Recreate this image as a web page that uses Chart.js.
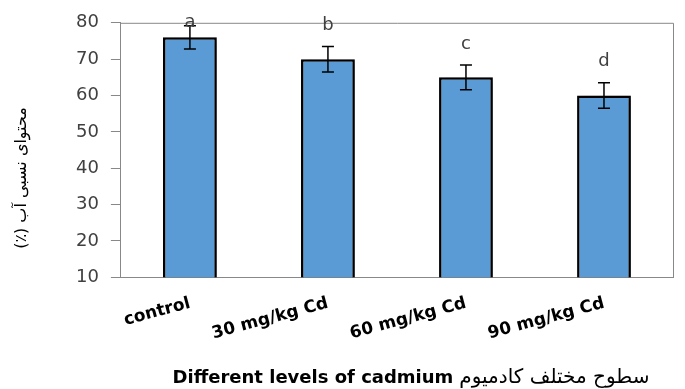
<!DOCTYPE html>
<html>
<head>
<meta charset="utf-8">
<script src="https://cdn.jsdelivr.net/npm/chart.js@4.4.0/dist/chart.umd.min.js"></script>
<style>
  html, body { margin: 0; padding: 0; background: #fff; }
  #wrap { width: 685px; height: 389px; position: relative; }
</style>
</head>
<body>
<div id="wrap"><canvas id="c" width="685" height="389"></canvas></div>
<script>
const categories = ['control', '30 mg/kg Cd', '60 mg/kg Cd', '90 mg/kg Cd'];
const values = [76, 70, 65, 60];
const errors = [3.2, 3.5, 3.4, 3.5];
const letters = ['a', 'b', 'c', 'd'];
const yTicks = [10, 20, 30, 40, 50, 60, 70, 80];
const yTitle = 'محتوای نسبی آب (٪)';
const xTitleEn = 'Different levels of cadmium';
const xTitleFa = 'سطوح مختلف کادمیوم';

const shadowPlugin = {
  id: 'shadow',
  beforeDatasetsDraw(chart) {
    const ctx = chart.ctx;
    ctx.save();
    ctx.shadowColor = 'rgba(0,0,0,0.35)';
    ctx.shadowBlur = 6;
    ctx.shadowOffsetX = 3;
    ctx.shadowOffsetY = 2;
  },
  afterDatasetsDraw(chart) {
    chart.ctx.restore();
  }
};

const extras = {
  id: 'extras',
  afterDraw(chart) {
    const ctx = chart.ctx;
    const a = chart.chartArea;
    const x = chart.scales.x, y = chart.scales.y;
    ctx.save();
    ctx.strokeStyle = '#888888';
    ctx.lineWidth = 1;
    ctx.beginPath();
    ctx.moveTo(a.left, a.top + 0.5);
    ctx.lineTo(a.right + 0.5, a.top + 0.5);
    ctx.lineTo(a.right + 0.5, a.bottom);
    ctx.stroke();
    // error bars
    ctx.strokeStyle = '#000';
    ctx.lineWidth = 1.5;
    values.forEach((v, i) => {
      const cx = x.getPixelForValue(i);
      const yt = y.getPixelForValue(v + errors[i]);
      const yb = y.getPixelForValue(v - errors[i]);
      ctx.beginPath();
      ctx.moveTo(cx, yt); ctx.lineTo(cx, yb);
      ctx.moveTo(cx - 6, yt); ctx.lineTo(cx + 6, yt);
      ctx.moveTo(cx - 6, yb); ctx.lineTo(cx + 6, yb);
      ctx.stroke();
    });
    // letters
    ctx.fillStyle = '#404040';
    ctx.font = '18px "DejaVu Sans"';
    ctx.textAlign = 'center';
    ctx.textBaseline = 'middle';
    values.forEach((v, i) => {
      const lv = Math.min(v + errors[i] + 5.8, 80);
      ctx.fillText(letters[i], x.getPixelForValue(i), y.getPixelForValue(lv));
    });
    // y title
    ctx.save();
    ctx.translate(22, 178);
    ctx.rotate(-Math.PI / 2);
    ctx.direction = 'rtl';
    ctx.font = '16px "DejaVu Sans"';
    ctx.fillStyle = '#000';
    ctx.textAlign = 'center';
    ctx.textBaseline = 'middle';
    ctx.fillText(yTitle, 0, 0);
    ctx.restore();
    // x title
    ctx.fillStyle = '#000';
    ctx.textBaseline = 'alphabetic';
    ctx.textAlign = 'left';
    const fEn = 'bold 18px "DejaVu Sans"';
    const fFa = '20px "DejaVu Sans"';
    ctx.font = fEn; const wEn = ctx.measureText(xTitleEn).width;
    ctx.font = fFa; const wFa = ctx.measureText(xTitleFa).width;
    const gap = 6;
    const total = wEn + gap + wFa;
    const start = 411 - total / 2;
    ctx.font = fEn;
    ctx.fillText(xTitleEn, start, 383);
    ctx.font = fFa;
    ctx.direction = 'rtl';
    ctx.textAlign = 'right';
    ctx.fillText(xTitleFa, start + total, 383);
    ctx.restore();
  }
};

new Chart(document.getElementById('c'), {
  type: 'bar',
  data: {
    labels: categories,
    datasets: [{
      data: values,
      backgroundColor: '#5B9BD5',
      borderColor: '#000000',
      borderWidth: 2.5,
      borderSkipped: false,
      barPercentage: 0.39,
      categoryPercentage: 1.0
    }]
  },
  options: {
    responsive: false,
    animation: false,
    devicePixelRatio: 1,
    layout: { padding: { left: 64, right: 12, top: 11, bottom: 37 } },
    plugins: { legend: { display: false }, tooltip: { enabled: false } },
    scales: {
      x: {
        grid: { display: false },
        border: { display: true, color: '#888888', width: 1 },
        ticks: {
          color: '#000',
          font: { family: 'DejaVu Sans', size: 17, weight: 'bold' },
          minRotation: 15, maxRotation: 15, padding: 8
        }
      },
      y: {
        min: 10, max: 80,
        afterBuildTicks(scale) { scale.ticks = yTicks.map(v => ({ value: v })); },
        grid: { drawOnChartArea: false, drawTicks: true, tickLength: 10, color: '#888888' },
        border: { display: true, color: '#888888', width: 1 },
        ticks: {
          color: '#404040',
          font: { family: 'DejaVu Sans', size: 18 },
          padding: 12
        }
      }
    }
  },
  plugins: [shadowPlugin, extras]
});
</script>
</body>
</html>
